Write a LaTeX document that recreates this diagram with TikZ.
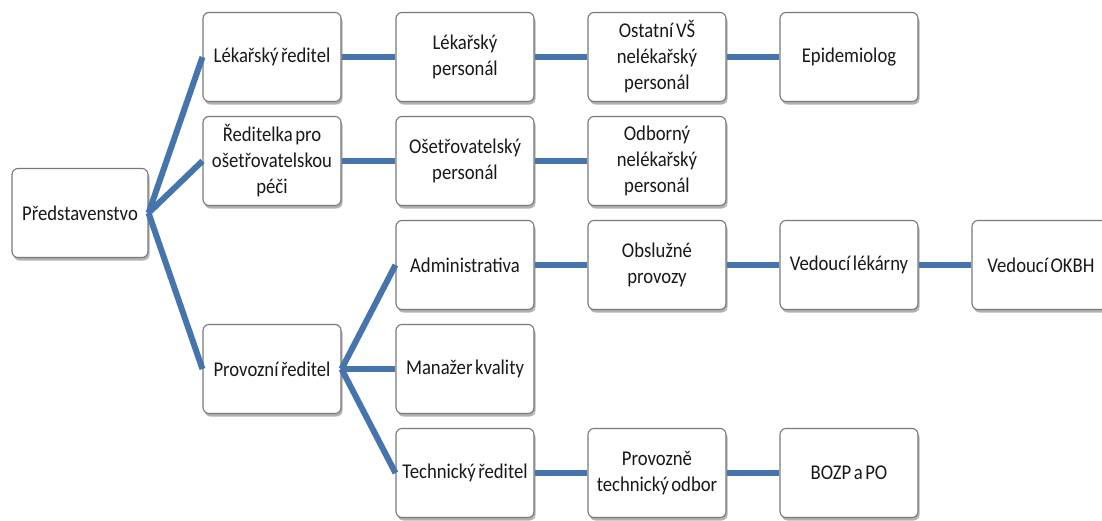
\documentclass[tikz,border=0pt]{standalone}
\usepackage{fontspec}
\setmainfont{Carlito}[FakeStretch=0.89, WordSpace=0.6]
\usetikzlibrary{shadows}
\definecolor{linkblue}{RGB}{70,116,172}
\definecolor{boxborder}{RGB}{120,120,120}
\definecolor{txt}{RGB}{25,25,25}
\tikzset{
  orgbox/.style={draw=boxborder, line width=1.1pt, rounded corners=6pt, fill=white,
    minimum width=138pt, minimum height=89pt, inner sep=2pt, align=center,
    text=txt, font=\fontsize{21}{26}\selectfont,
    drop shadow={shadow xshift=1.5pt, shadow yshift=-3pt, fill=black, opacity=0.3}},
  link/.style={draw=linkblue, line width=6pt}
}
\begin{document}
\begin{tikzpicture}[x=1pt, y=-1pt]
\useasboundingbox (0,0) rectangle (1102,520);
\fill[white] (0,0) rectangle (1102,520);
% column 0
\node[orgbox, minimum width=136pt] (pred) at (80,213) {Představenstvo};
% column 1
\node[orgbox] (lekred) at (272,57) {Lékařský ředitel};
\node[orgbox] (redos) at (272,161) {Ředitelka pro\\ošetřovatelskou\\péči};
\node[orgbox] (provred) at (272,369) {Provozní ředitel};
% column 2
\node[orgbox] (lekpers) at (465,57) {Lékařský\\personál};
\node[orgbox] (ospers) at (465,161) {Ošetřovatelský\\personál};
\node[orgbox] (admin) at (465,265) {Administrativa};
\node[orgbox] (manaz) at (465,369) {Manažer kvality};
\node[orgbox] (techred) at (465,473) {Technický ředitel};
% column 3
\node[orgbox] (ostvs) at (657,57) {Ostatní VŠ\\nelékařský\\personál};
\node[orgbox] (odbor) at (657,161) {Odborný\\nelékařský\\personál};
\node[orgbox] (obsl) at (657,265) {Obslužné\\provozy};
\node[orgbox] (provtech) at (657,473) {Provozně\\technický odbor};
% column 4
\node[orgbox] (epid) at (849,57) {Epidemiolog};
\node[orgbox] (vedlek) at (849,265) {Vedoucí lékárny};
\node[orgbox] (bozp) at (849,473) {BOZP a PO};
% column 5
\node[orgbox] (okbh) at (1041,265) {Vedoucí OKBH};
% connectors
\draw[link] (pred.east) -- (lekred.west);
\draw[link] (pred.east) -- (redos.west);
\draw[link] (pred.east) -- (provred.west);
\draw[link] (lekred) -- (lekpers);
\draw[link] (lekpers) -- (ostvs);
\draw[link] (ostvs) -- (epid);
\draw[link] (redos) -- (ospers);
\draw[link] (ospers) -- (odbor);
\draw[link] (provred.east) -- (admin.west);
\draw[link] (provred.east) -- (manaz.west);
\draw[link] (provred.east) -- (techred.west);
\draw[link] (admin) -- (obsl);
\draw[link] (obsl) -- (vedlek);
\draw[link] (vedlek) -- (okbh);
\draw[link] (techred) -- (provtech);
\draw[link] (provtech) -- (bozp);
\end{tikzpicture}
\end{document}
